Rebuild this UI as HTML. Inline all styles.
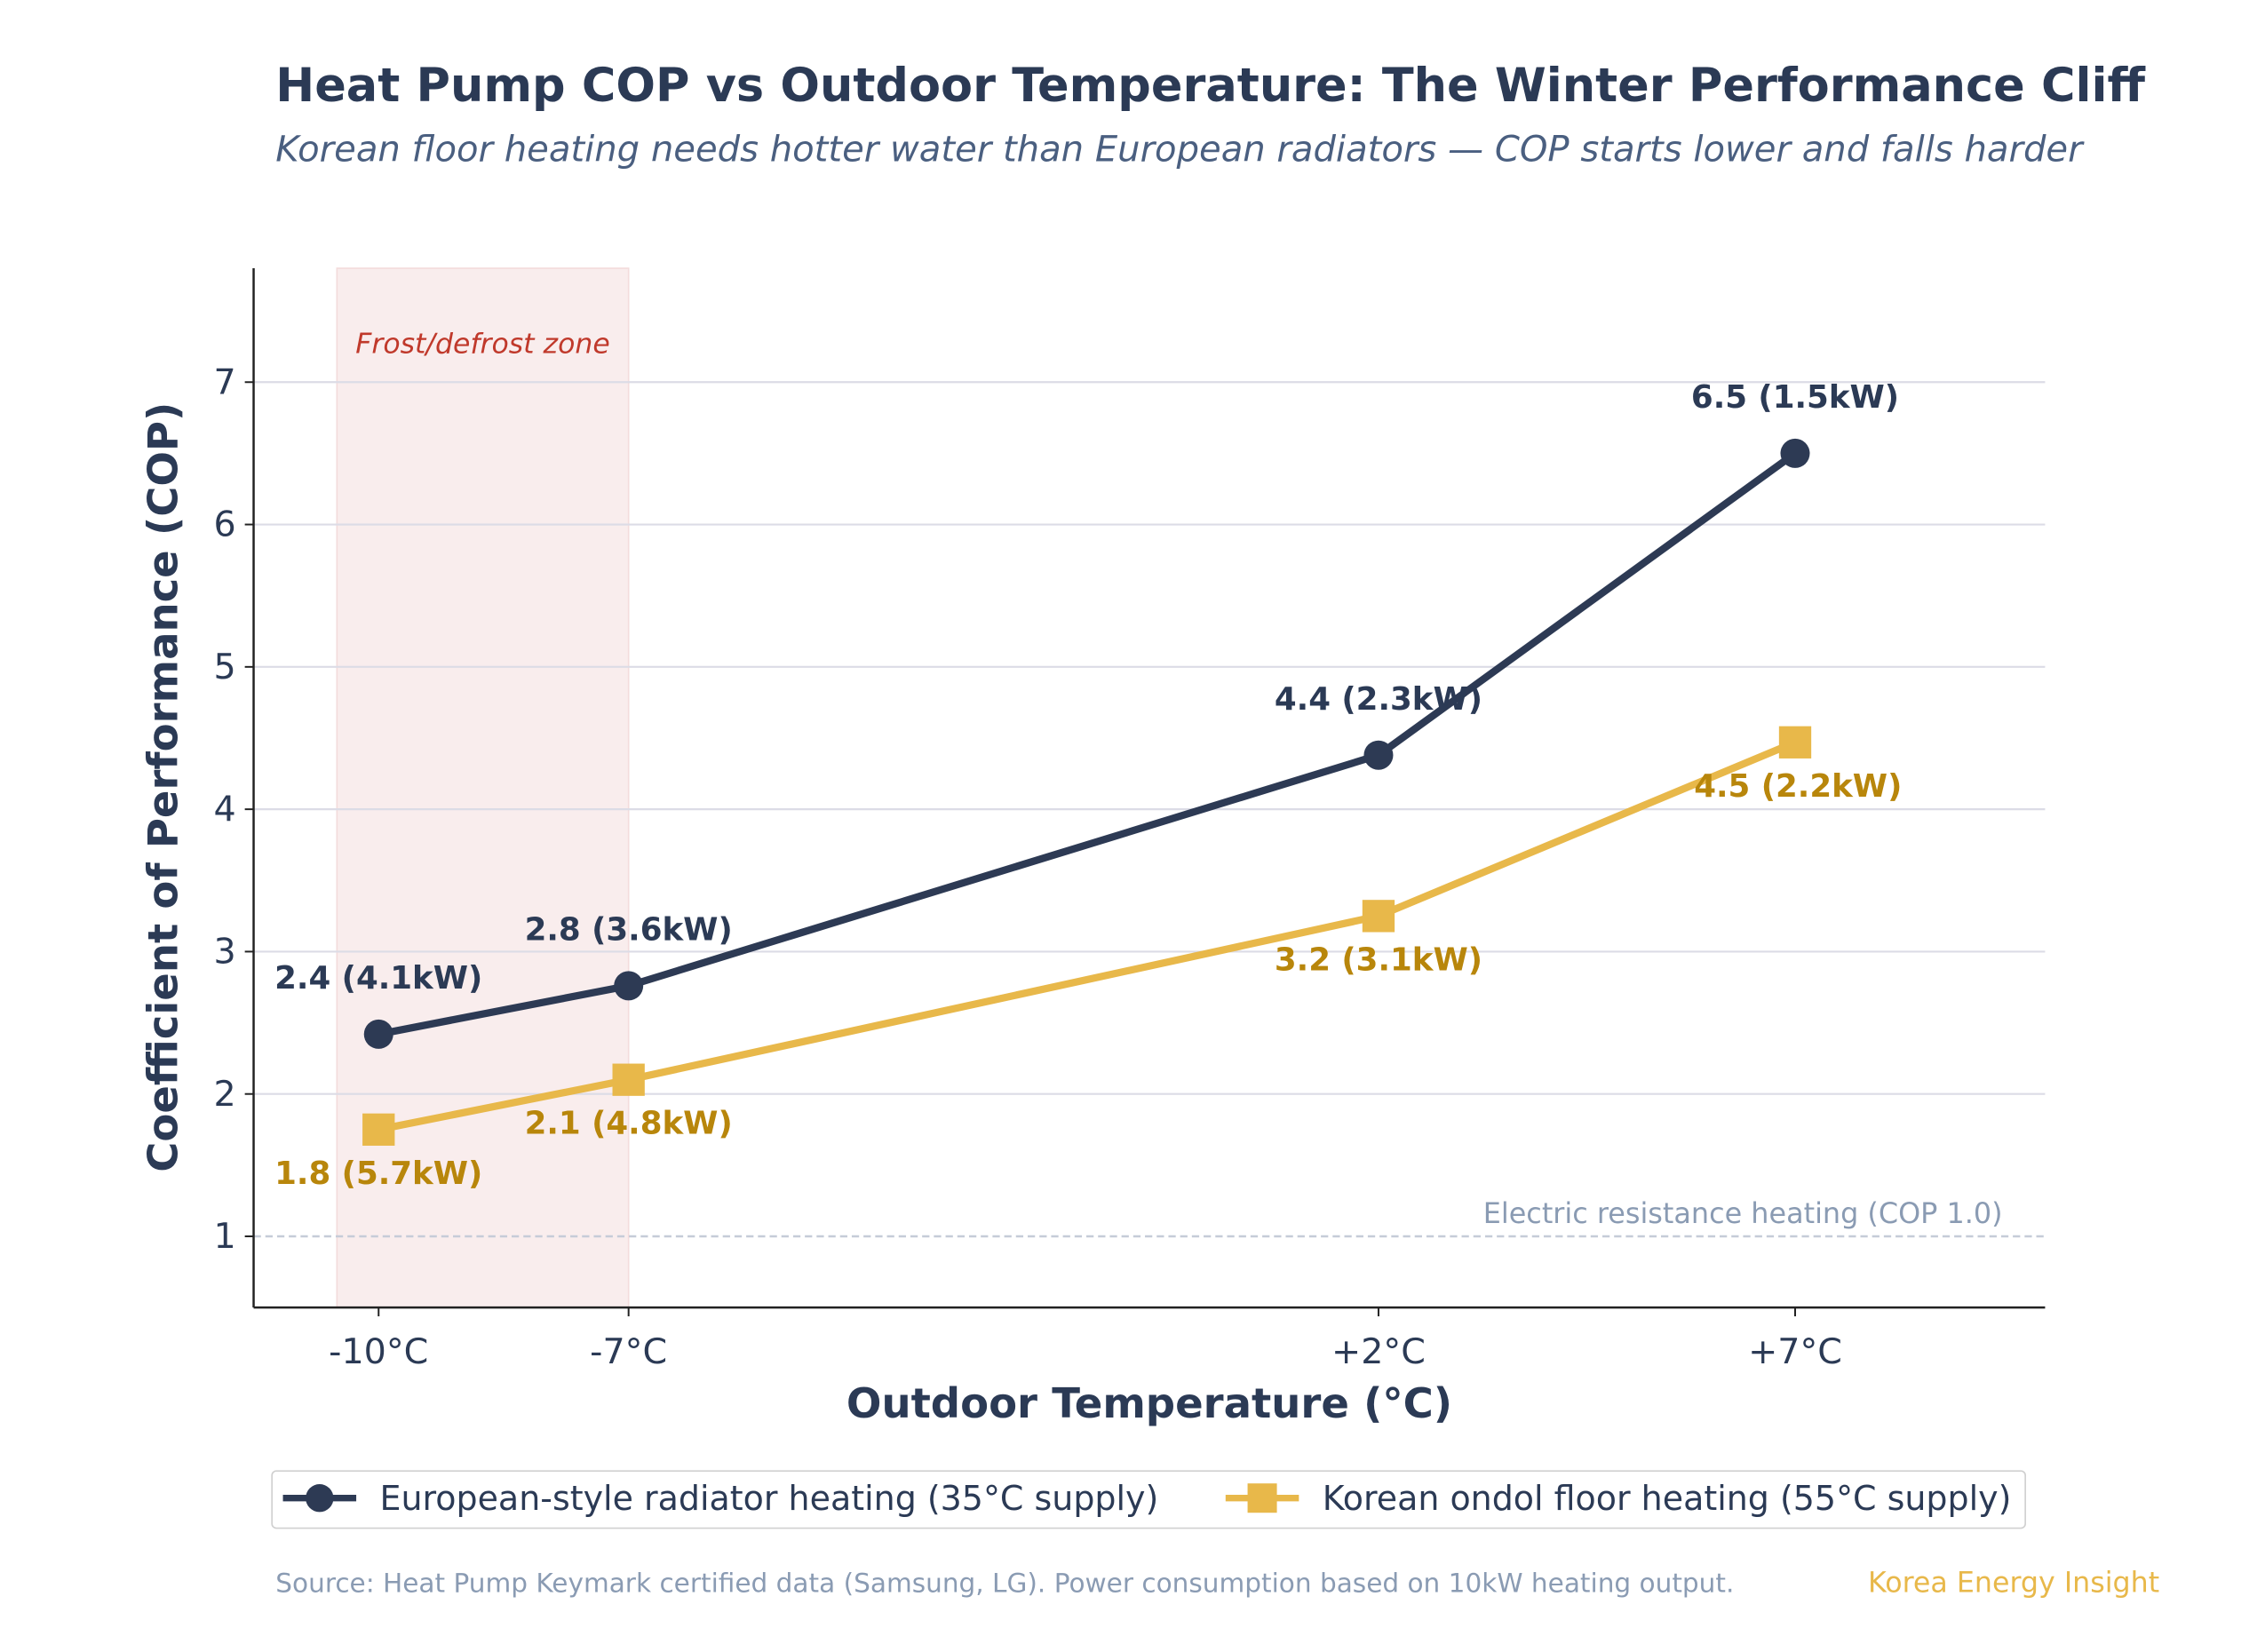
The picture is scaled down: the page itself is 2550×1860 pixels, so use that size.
<!DOCTYPE html>
<html><head><meta charset="utf-8"><style>
html,body{margin:0;padding:0;background:#fff;}
svg{display:block;font-family:"DejaVu Sans","Liberation Sans",sans-serif;}
</style></head><body>
<svg id="chart" width="2550" height="1860" viewBox="0 0 1545 1127" preserveAspectRatio="none" xmlns="http://www.w3.org/2000/svg">
<rect width="1545" height="1127" fill="#fff"/>
<text x="188" y="69" font-size="31.8" font-weight="bold" fill="#2b3a55">Heat Pump COP vs Outdoor Temperature: The Winter Performance Cliff</text>
<text x="188" y="110" font-size="24.3" font-style="italic" fill="#4a5f80">Korean floor heating needs hotter water than European radiators — COP starts lower and falls harder</text>
<g id="plot"></g>
<text transform="translate(121,537) rotate(-90)" text-anchor="middle" font-size="28.2" font-weight="bold" fill="#2b3a55">Coefficient of Performance (COP)</text>
<text x="784" y="967" text-anchor="middle" font-size="28.2" font-weight="bold" fill="#2b3a55">Outdoor Temperature (°C)</text>
<g>
<rect x="185.5" y="1003.5" width="1196" height="39" rx="3" fill="#fff" stroke="#d0d0d0"/>
<g>
<line x1="193" y1="1022" x2="243" y2="1022" stroke="#2d3a54" stroke-width="4.5"/>
<circle cx="218" cy="1022" r="9.5" fill="#2d3a54"/>
<text x="259" y="1030" font-size="23" fill="#2b3a55">European-style radiator heating (35°C supply)</text>
</g>
<g>
<line x1="836" y1="1022" x2="886" y2="1022" stroke="#e8b84a" stroke-width="4.5"/>
<rect x="851" y="1012" width="20" height="20" fill="#e8b84a"/>
<text x="902" y="1030" font-size="23" fill="#2b3a55">Korean ondol floor heating (55°C supply)</text>
</g>
</g>
<text x="188" y="1086" font-size="17.9" fill="#8a9bb3">Source: Heat Pump Keymark certified data (Samsung, LG). Power consumption based on 10kW heating output.</text>
<text x="1473" y="1086" text-anchor="end" font-size="19.2" fill="#e8b84a">Korea Energy Insight</text>
</svg>
<script>
const temps = [-10, -7, 2, 7];
const tickLabels = ["-10°C", "-7°C", "+2°C", "+7°C"];
const europeanCOP = [2.42, 2.76, 4.38, 6.5];
const koreanCOP = [1.75, 2.1, 3.25, 4.47];
const europeanLabels = ["2.4 (4.1kW)", "2.8 (3.6kW)", "4.4 (2.3kW)", "6.5 (1.5kW)"];
const koreanLabels = ["1.8 (5.7kW)", "2.1 (4.8kW)", "3.2 (3.1kW)", "4.5 (2.2kW)"];
const yTicks = [1, 2, 3, 4, 5, 6, 7];

const L=173,R=1395,T=183,B=892,x0=-11.5,x1=10,y0=0.5,y1=7.8;
const sx=v=>L+(v-x0)/(x1-x0)*(R-L);
const sy=v=>B-(v-y0)/(y1-y0)*(B-T);
const NS="http://www.w3.org/2000/svg";
const g=document.getElementById('plot');
function mk(tag,attrs,parent){const e=document.createElementNS(NS,tag);for(const k in attrs)e.setAttribute(k,attrs[k]);(parent||g).appendChild(e);return e;}

let fz=mk('rect',{x:sx(-10.5),y:T,width:sx(-7)-sx(-10.5),height:B-T,fill:'#f9eded',stroke:'#f3dcdc'});


let fzt=mk('text',{x:(sx(-10.5)+sx(-7))/2,y:241,'text-anchor':'middle','font-size':19.1,'font-style':'italic',fill:'#c0392b'});
fzt.textContent='Frost/defrost zone';



yTicks.forEach(v=>{
  const y=sy(v);
  if(v!==1){let gl=mk('line',{x1:L,x2:R,y1:y,y2:y,stroke:'#dcdce6','stroke-width':1.3});
  
  }
  mk('line',{x1:L-6,x2:L,y1:y,y2:y,stroke:'#222','stroke-width':1.2});
  let t=mk('text',{x:L-12,y:y+8,'text-anchor':'end','font-size':24,fill:'#2b3a55'});
  t.textContent=v;
  
  
});
let rl=mk('line',{x1:L,x2:R,y1:sy(1),y2:sy(1),stroke:'#c6ccd8','stroke-width':1.5,'stroke-dasharray':'5,3'});


let rt=mk('text',{x:1366,y:sy(1)-9,'text-anchor':'end','font-size':19.3,fill:'#8a9bb3'});
rt.textContent='Electric resistance heating (COP 1.0)';



mk('line',{x1:L,x2:L,y1:T,y2:B,stroke:'#222','stroke-width':1.5});
mk('line',{x1:L,x2:R,y1:B,y2:B,stroke:'#222','stroke-width':1.5});
temps.forEach((t,i)=>{
  const x=sx(t);
  mk('line',{x1:x,x2:x,y1:B,y2:B+6,stroke:'#222','stroke-width':1.2});
  let tl=mk('text',{x:x,y:B+38,'text-anchor':'middle','font-size':24,fill:'#2b3a55'});
  tl.textContent=tickLabels[i];
  
  
});

function series(vals,color,name){
  const pts=temps.map((t,i)=>sx(t)+','+sy(vals[i])).join(' ');
  let pl=mk('polyline',{points:pts,fill:'none',stroke:color,'stroke-width':5,'stroke-linejoin':'round'});
  
  
}
series(koreanCOP,'#e8b84a','korean');
series(europeanCOP,'#2d3a54','european');
temps.forEach((t,i)=>{
  let c=mk('circle',{cx:sx(t),cy:sy(europeanCOP[i]),r:10,fill:'#2d3a54'});
  
  
  let s=mk('rect',{x:sx(t)-11,y:sy(koreanCOP[i])-11,width:22,height:22,fill:'#e8b84a'});
  
  
  let a=mk('text',{x:sx(t),y:sy(europeanCOP[i])-31,'text-anchor':'middle','font-size':21.6,'font-weight':'bold',fill:'#2b3a55'});
  a.textContent=europeanLabels[i];
  
  
  let b=mk('text',{x:sx(t)+(i===3?2:0),y:sy(koreanCOP[i])+37,'text-anchor':'middle','font-size':21.6,'font-weight':'bold',fill:'#b8860b'});
  b.textContent=koreanLabels[i];
  
  
});
</script>
</body></html>
